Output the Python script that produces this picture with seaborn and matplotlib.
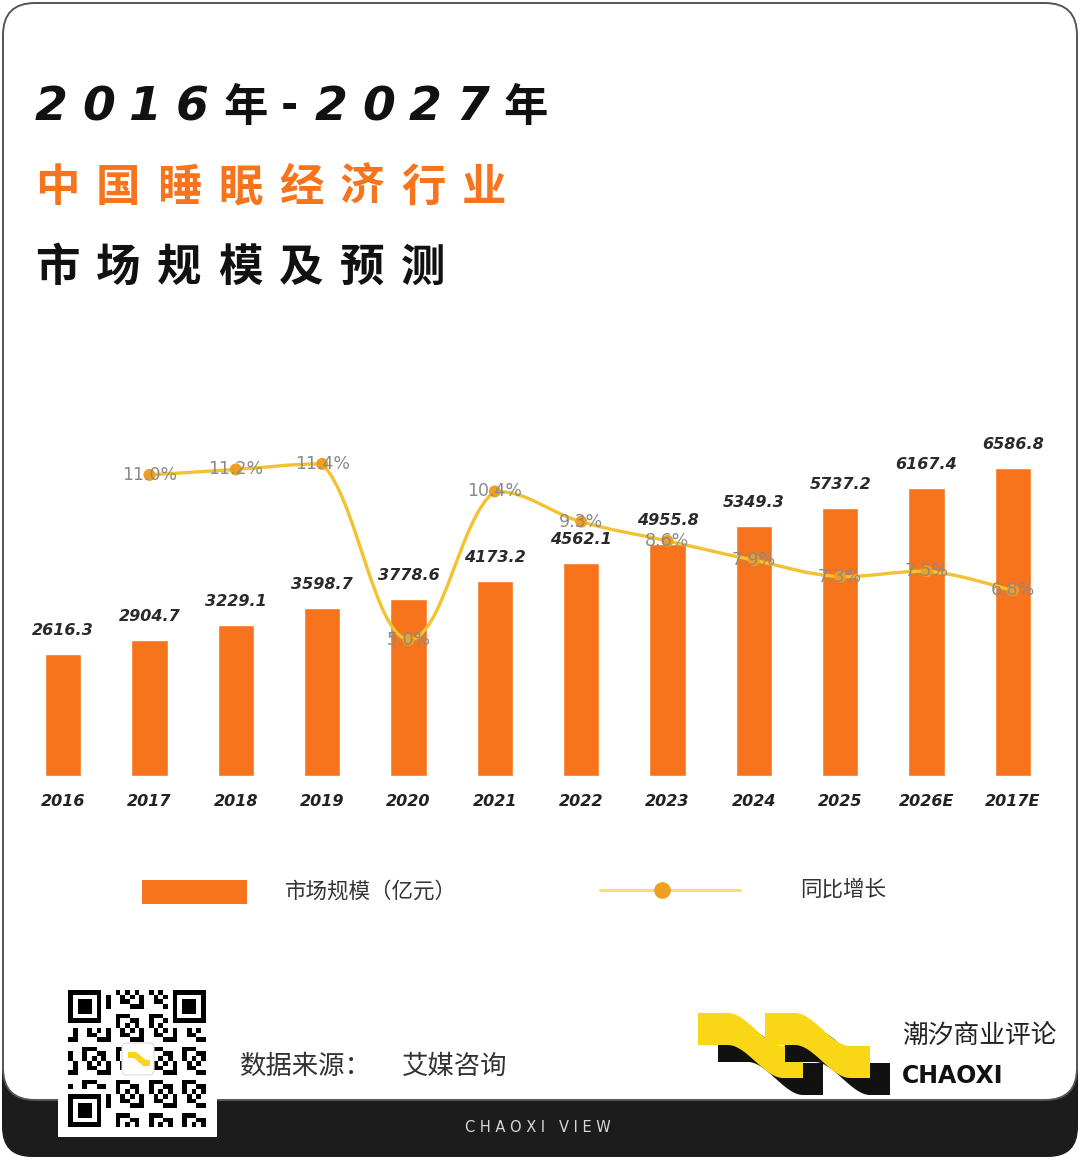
import numpy as np
import matplotlib
matplotlib.use("Agg")
import matplotlib.pyplot as plt
import seaborn as sns
from matplotlib.patches import FancyBboxPatch, Rectangle, Polygon, PathPatch
from matplotlib.path import Path
from matplotlib.lines import Line2D

# data
years = ["2016", "2017", "2018", "2019", "2020", "2021", "2022", "2023",
         "2024", "2025", "2026E", "2017E"]
market_size = [2616.3, 2904.7, 3229.1, 3598.7, 3778.6, 4173.2, 4562.1,
               4955.8, 5349.3, 5737.2, 6167.4, 6586.8]
growth = [np.nan, 11.0, 11.2, 11.4, 5.0, 10.4, 9.3, 8.6, 7.9, 7.3, 7.5, 6.8]

title_1 = "2016年-2027年"
title_2 = "中国睡眠经济行业"
title_3 = "市场规模及预测"
legend_bar = "市场规模（亿元）"
legend_line = "同比增长"

ORANGE = "#F7741C"
YELLOW = "#F2C230"
DOT = "#F0A020"
CJK = ["Noto Sans CJK SC", "DejaVu Sans"]

sns.set_theme(style="white")
plt.rcParams["font.family"] = ["DejaVu Sans", "Noto Sans CJK SC"]

fig = plt.figure(figsize=(10.8, 11.6), dpi=100)
fig.patch.set_facecolor("white")

# background / decoration layer in pixel coordinates
bg = fig.add_axes([0, 0, 1, 1], zorder=0)
bg.axis("off")

# card + black footer
bg.add_patch(FancyBboxPatch((2, 1040), 1076, 117, boxstyle="round,pad=0,rounding_size=30",
                            facecolor="#1c1c1c", edgecolor="none"))
bg.add_patch(FancyBboxPatch((3, 3), 1074, 1097, boxstyle="round,pad=0,rounding_size=32",
                            facecolor="white", edgecolor="#555555", linewidth=1.4))
bg.text(538, 1128, "C H A O X I   V I E W", ha="center", va="center",
        color="#d8d8d8", fontsize=10.5)


def spaced(x0, y, chars, advances, **kw):
    x = x0
    for ch, adv in zip(chars, advances):
        bg.text(x, y, ch, ha="left", va="center", **kw)
        x += adv


# title line 1
x = 35
for ch in title_1:
    if ch == "年":
        bg.text(x, 108, ch, ha="left", va="center", fontsize=32, fontweight="heavy",
                family=CJK, color="#111111")
        x += 58
    elif ch == "-":
        bg.text(x, 106, ch, ha="left", va="center", fontsize=30, fontweight="bold",
                color="#111111")
        x += 34
    else:
        bg.text(x, 108, ch, ha="left", va="center", fontsize=34, fontweight="bold",
                style="italic", color="#111111")
        x += 47

spaced(35, 188, title_2, [61] * len(title_2), fontsize=32, fontweight="heavy",
       family=CJK, color=ORANGE)
spaced(35, 268, title_3, [61] * len(title_3), fontsize=32, fontweight="heavy",
       family=CJK, color="#111111")

# legend
bg.add_patch(Rectangle((142, 880), 105, 24, facecolor=ORANGE, edgecolor="none"))
bg.text(285, 892, legend_bar, ha="left", va="center", fontsize=15.5, family=CJK, color="#333333")
bg.add_line(Line2D([600, 740], [890, 890], color="#F5DC80", linewidth=2.2))
bg.plot([662], [890], "o", color=DOT, markersize=11)
bg.text(800, 890, legend_line, ha="left", va="center", fontsize=15.5, family=CJK, color="#333333")

# source
bg.text(240, 1066, "数据来源：", ha="left", va="center", fontsize=19, family=CJK, color="#333333")
bg.text(402, 1066, "艾媒咨询", ha="left", va="center", fontsize=19, family=CJK, color="#333333")

# QR-like block
bg.add_patch(Rectangle((58, 985), 159, 152, facecolor="white", edgecolor="none", zorder=3))
n = 29
ii, jj = np.mgrid[0:n, 0:n]
qr = (((ii * 5 + jj * 3 + ii * jj) % 7) < 3).astype(float)
for r, c in [(0, 0), (0, n - 7), (n - 7, 0)]:
    r0, r1 = max(r - 1, 0), min(r + 8, n)
    c0, c1 = max(c - 1, 0), min(c + 8, n)
    qr[r0:r1, c0:c1] = 0
    qr[r:r + 7, c:c + 7] = 1
    qr[r + 1:r + 6, c + 1:c + 6] = 0
    qr[r + 2:r + 5, c + 2:c + 5] = 1
bg.imshow(qr, cmap="gray_r", vmin=0, vmax=1, extent=(68, 206, 1127, 990),
          origin="upper", interpolation="nearest", aspect="auto", zorder=4)
bg.add_patch(FancyBboxPatch((122, 1043), 32, 32, boxstyle="round,pad=0,rounding_size=5",
                            facecolor="white", edgecolor="#dddddd", linewidth=0.8, zorder=5))
bg.add_patch(Polygon([(128, 1052), (136, 1052), (146, 1060), (150, 1060), (150, 1066),
                      (143, 1066), (134, 1058), (128, 1058)], closed=True,
                     facecolor="#F9D616", edgecolor="none", zorder=6))


# logo waves
def wave(x0, y0, color, z):
    t = np.linspace(0, 1, 30)
    s = t * t * (3 - 2 * t)
    top_x = np.concatenate([[x0], x0 + 30 + 55 * t, [x0 + 105]])
    top_y = np.concatenate([[y0], y0 + 33 * s, [y0 + 33]])
    pts = list(zip(top_x, top_y)) + list(zip(top_x[::-1], top_y[::-1] + 32))
    bg.add_patch(Polygon(pts, closed=True, facecolor=color, edgecolor="none", zorder=z))


wave(718, 1030, "#111111", 3)
wave(698, 1013, "#F9D616", 4)
wave(785, 1030, "#111111", 5)
wave(765, 1013, "#F9D616", 6)
bg.text(902, 1037, "潮汐商业评论", ha="left", va="center", fontsize=18.5, family=CJK, color="#222222")
bg.text(902, 1076, "CHAOXI", ha="left", va="center", fontsize=17, fontweight="bold",
        color="#111111")

bg.set_xlim(0, 1080)
bg.set_ylim(1160, 0)

# chart
ax = fig.add_axes([20 / 1080, 0.331, 1036 / 1080, 0.3224], zorder=2)
ax.patch.set_alpha(0)
sns.barplot(x=years, y=market_size, color=ORANGE, width=0.42, saturation=1, ax=ax)
ax.set_xlim(-0.5, 11.5)
ax.set_ylim(0, 8000)
for k, v in enumerate(market_size):
    ax.annotate(f"{v:.1f}", (k, v), xytext=(0, 17), textcoords="offset points",
                ha="center", va="center", fontsize=11.5, fontweight="bold", style="italic",
                color="#2a2a2a")
ax.set_xticks(range(len(years)))
ax.set_xticklabels(years, fontsize=11.5, fontweight="bold", style="italic", color="#222222")
ax.tick_params(axis="x", length=0, pad=13)
ax.set_yticks([])
ax.set_xlabel("")
ax.set_ylabel("")
for sp in ax.spines.values():
    sp.set_visible(False)

tw = ax.twinx()
tw.set_ylim(0.05, 13.65)
tw.set_yticks([])
for sp in tw.spines.values():
    sp.set_visible(False)

gx = [k for k, g in enumerate(growth) if not np.isnan(g)]
gy = [g for g in growth if not np.isnan(g)]

# smooth line (cubic bezier segments with clamped control points)
verts = [(gx[0], gy[0])]
codes = [Path.MOVETO]
m = len(gx)
f = 0.2
for k in range(m - 1):
    p0 = np.array([gx[max(k - 1, 0)], gy[max(k - 1, 0)]])
    p1 = np.array([gx[k], gy[k]])
    p2 = np.array([gx[k + 1], gy[k + 1]])
    p3 = np.array([gx[min(k + 2, m - 1)], gy[min(k + 2, m - 1)]])
    c1 = p1 + f * (p2 - p0)
    c2 = p2 - f * (p3 - p1)
    lo, hi = min(p1[1], p2[1]), max(p1[1], p2[1])
    c1[1] = np.clip(c1[1], lo, hi)
    c2[1] = np.clip(c2[1], lo, hi)
    verts += [tuple(c1), tuple(c2), tuple(p2)]
    codes += [Path.CURVE4] * 3
tw.add_patch(PathPatch(Path(verts, codes), facecolor="none", edgecolor=YELLOW,
                       linewidth=2.4, zorder=3))
sns.scatterplot(x=gx, y=gy, color=DOT, s=75, edgecolor="none", zorder=4, ax=tw)
for xv, yv in zip(gx, gy):
    tw.text(xv, yv, f"{yv:.1f}%", ha="center", va="center", fontsize=12.5,
            color="#8a8a8a", zorder=5)
tw.set_xlim(-0.5, 11.5)

fig.savefig("out.png", dpi=100, facecolor="white")
